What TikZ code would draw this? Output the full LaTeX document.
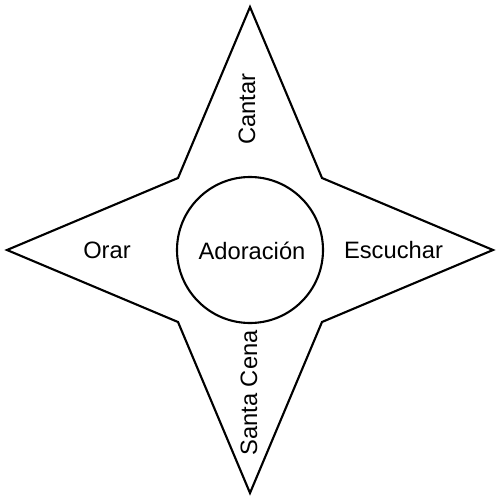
\documentclass[tikz,border=0pt]{standalone}
\usepackage{fontspec}
\setmainfont{Liberation Sans}
\begin{document}
\begin{tikzpicture}[x=0.02cm,y=-0.02cm,
  lbl/.style={font=\fontsize{13.5}{16}\selectfont, inner sep=0pt, anchor=base},
  shape line/.style={line width=1.2pt, line join=miter}]
\useasboundingbox (0,0) rectangle (500,500);
\draw[shape line] (250,7) -- (322,178) -- (493,250) -- (322,322) -- (250,493)
  -- (178,322) -- (7,250) -- (178,178) -- cycle;
\node[draw, circle, shape line, minimum size=146*0.02cm, inner sep=0pt] (c) at (250,250) {};
\node[lbl] (ad) at (252,259) {Adoración};
\node[lbl] (or) at (107,258) {Orar};
\node[lbl] (es) at (393.5,258) {Escuchar};
\node[lbl, rotate=90] (ca) at (255,109) {Cantar};
\node[lbl, rotate=90] (sc) at (257,393) {Santa Cena};
\end{tikzpicture}
\end{document}
